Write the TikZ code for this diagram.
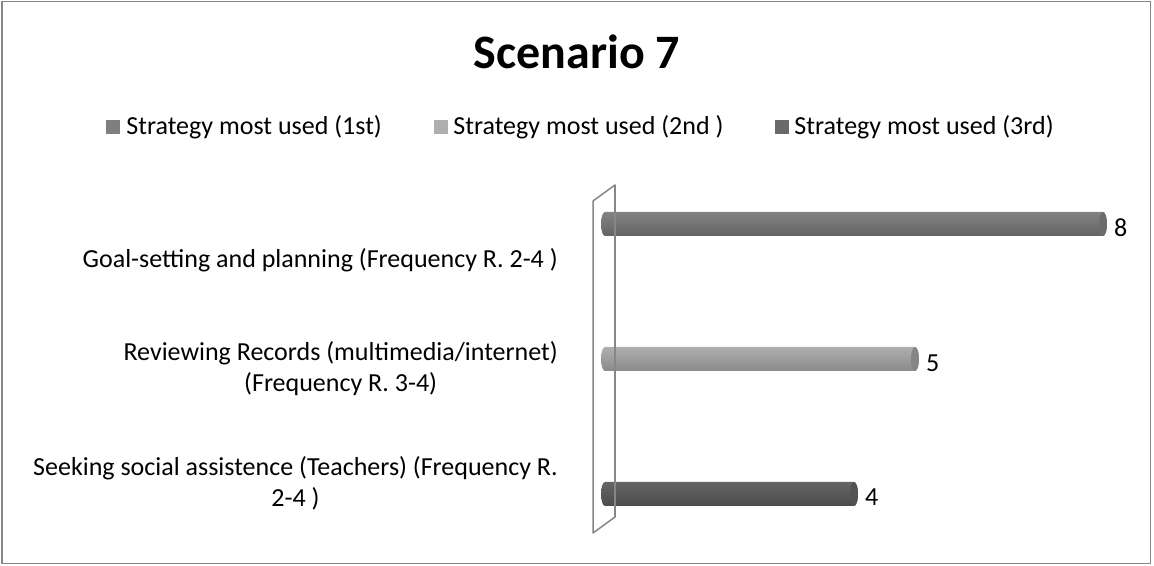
\documentclass[tikz,border=0pt]{standalone}
\usepackage{fontspec}
\setmainfont{Carlito}
\usetikzlibrary{positioning}
\definecolor{serA}{RGB}{138,138,138}
\definecolor{serB}{RGB}{184,184,184}
\definecolor{serC}{RGB}{106,106,106}
\definecolor{frame}{RGB}{134,134,134}

\begin{document}
\begin{tikzpicture}[x=1pt,y=1pt,
  lbl/.style={font=\fontsize{26}{31}\selectfont, align=center, inner sep=0pt, anchor=east},
  keysq/.style={minimum size=14pt, inner sep=0pt},
  keytxt/.style={font=\fontsize{26}{31}\selectfont, inner sep=0pt},
  val/.style={font=\fontsize{26}{31}\selectfont, inner sep=0pt, anchor=west}]
\useasboundingbox (0,0) rectangle (1154,565);
\draw [frame, line width=1.5pt] (2,1.5) rectangle (1150.5,563.5);
\node [font=\bfseries\fontsize{48}{58}\selectfont] (title) at (577,513) {Scenario 7};
% legend
\node [keysq, fill=serA!92!black] (k1) at (113,438) {};
\node [keytxt, right=6pt of k1] (t1) {Strategy most used (1st)};
\node [keysq, fill=serB!95!black] (k2) at (441,438) {};
\node [keytxt, right=5pt of k2] (t2) {Strategy most used (2nd )};
\node [keysq, fill=serC] (k3) at (782,438) {};
\node [keytxt, right=5pt of k3] (t3) {Strategy most used (3rd)};
% wall
\coordinate (W1) at (593,32);
\coordinate (W2) at (615,48);
\coordinate (W3) at (615,380);
\coordinate (W4) at (593,364);
\draw [frame, line width=1.5pt, line join=round] (W1) -- (W2) -- (W3) -- (W4) -- cycle;
% bars
\shade [top color=serA!95!black, middle color=serA!85!white, bottom color=serA!72!black]
  (605,353) -- (1103,353) arc [start angle=90, end angle=-90, x radius=4, y radius=12]
  -- (605,329) arc [start angle=270, end angle=90, x radius=4, y radius=12] -- cycle;
\fill [serA!78!black] (1103,341) ellipse [x radius=4, y radius=12];
\shade [top color=serB!95!black, middle color=serB!80!white, bottom color=serB!75!black]
  (605,218) -- (915,218) arc [start angle=90, end angle=-90, x radius=4, y radius=12]
  -- (605,194) arc [start angle=270, end angle=90, x radius=4, y radius=12] -- cycle;
\fill [serB!72!black] (915,206) ellipse [x radius=4, y radius=12];
\shade [top color=serC!95!black, middle color=serC!85!white, bottom color=serC!72!black]
  (605,83) -- (854,83) arc [start angle=90, end angle=-90, x radius=4, y radius=12]
  -- (605,59) arc [start angle=270, end angle=90, x radius=4, y radius=12] -- cycle;
\fill [serC!78!black] (854,71) ellipse [x radius=4, y radius=12];
\draw [frame, line width=1.5pt] (W2) -- (W3);
% values
\node [val] (v1) at (1114,337) {8};
\node [val] (v2) at (926,202) {5};
\node [val] (v3) at (865,68) {4};
% categories
\node [lbl] (c1) at (558,305) {Goal-setting and planning (Frequency R. 2-4 )};
\node [lbl] (c2) at (558,196) {Reviewing Records (multimedia/internet)\\(Frequency R. 3-4)};
\node [lbl] (c3) at (558,82) {Seeking social assistence (Teachers) (Frequency R.\\2-4 )};
\end{tikzpicture}
\end{document}
